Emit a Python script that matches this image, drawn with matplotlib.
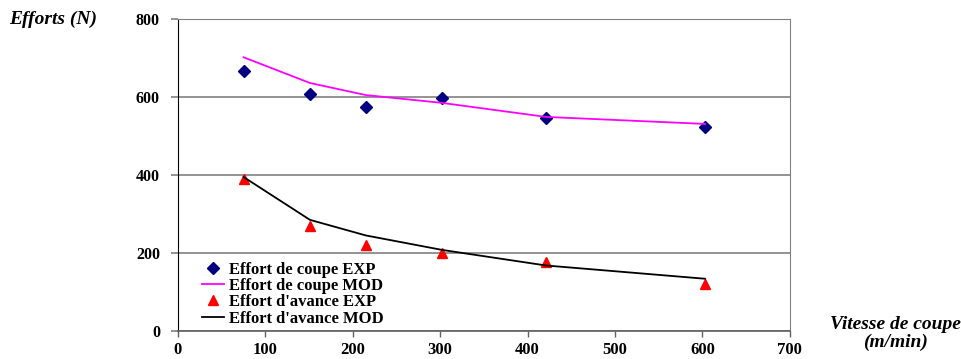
import matplotlib.pyplot as plt

vitesse = [75, 151, 215, 302, 421, 603]
coupe_exp = [667, 608, 574, 597, 546, 523]
coupe_mod = [702, 636, 605, 585, 549, 531]
avance_exp = [390, 270, 220, 200, 178, 120]
avance_mod = [395, 285, 245, 208, 168, 134]

plt.rcParams['font.family'] = 'Liberation Serif'
plt.rcParams['font.weight'] = 'bold'

fig = plt.figure(figsize=(9.62, 3.59), dpi=100)
ax = fig.add_axes([0.185, 0.078, 0.636, 0.869])

ax.plot(vitesse, coupe_exp, 'D', color='#000080', markersize=6, label='Effort de coupe EXP')
ax.plot(vitesse, coupe_mod, '-', color='#ff00ff', linewidth=1.3, label='Effort de coupe MOD')
ax.plot(vitesse, avance_exp, '^', color='#ff0000', markersize=7, label="Effort d'avance EXP")
ax.plot(vitesse, avance_mod, '-', color='black', linewidth=1.3, label="Effort d'avance MOD")

ax.set_xlim(0, 700)
ax.set_ylim(0, 800)
ax.set_xticks(range(0, 701, 100))
ax.set_yticks(range(0, 801, 200))
ax.yaxis.grid(True, color='#808080', linewidth=1.2)
ax.set_axisbelow(True)
ax.tick_params(axis='y', direction='out', length=5, width=1.2, color='#808080', labelsize=11.5, pad=8)
ax.tick_params(axis='x', direction='out', length=4, width=1, color='#606060', labelsize=12, pad=4)
for lab in ax.get_xticklabels() + ax.get_yticklabels():
    lab.set_fontweight('bold')
ax.spines['top'].set_color('#808080')
ax.spines['right'].set_color('#808080')
ax.spines['bottom'].set_color('#606060')
ax.spines['bottom'].set_linewidth(1.2)

fig.text(0.01, 0.945, 'Efforts (N)', fontsize=14, fontweight='bold', style='italic', va='center')
fig.text(0.931, 0.07, 'Vitesse de coupe\n(m/min)', fontsize=14, fontweight='bold', style='italic',
         ha='center', va='center', linespacing=1.05)

ax.legend(loc='lower left', bbox_to_anchor=(0.025, -0.015), frameon=False,
          handlelength=1.3, handletextpad=0.3, labelspacing=0.02, borderaxespad=0.15,
          prop={'weight': 'bold', 'size': 12})

fig.savefig('out.png', dpi=100)
